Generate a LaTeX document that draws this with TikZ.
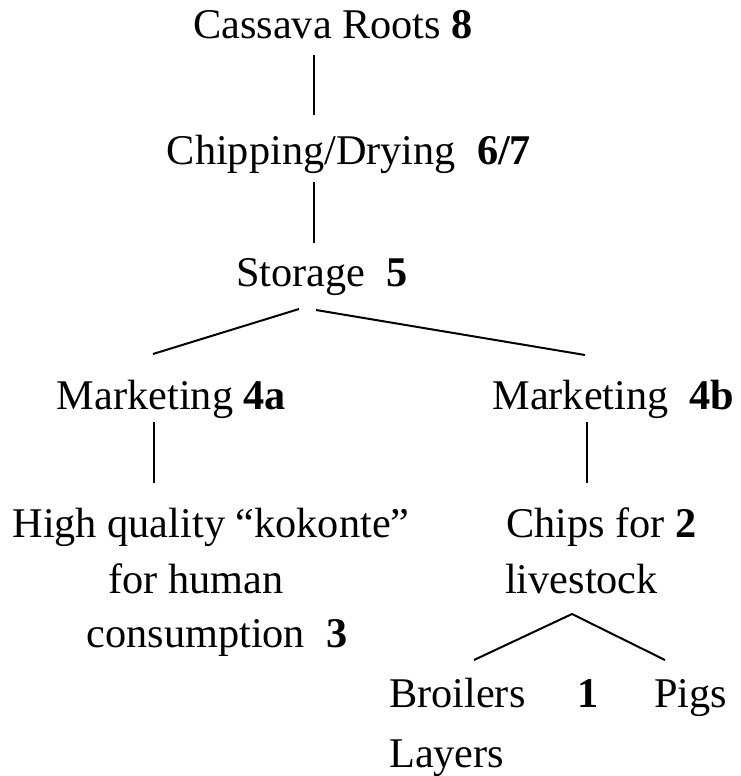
\documentclass[tikz,border=0pt]{standalone}
\usepackage{fontspec}
\setmainfont{Liberation Serif}
\begin{document}
\begin{tikzpicture}[x=1pt,y=-1pt,
  lbl/.style={anchor=base,inner sep=0pt,font=\fontsize{42.3}{50}\selectfont},
  lnk/.style={line width=2pt,black}]
\useasboundingbox (0,0) rectangle (741,776);
\node[lbl] (root) at (333,39) {Cassava Roots \textbf{8}};
\node[lbl] (chip) at (349,164) {Chipping/Drying\ \ \textbf{6/7}};
\node[lbl] (stor) at (322,286) {Storage\ \ \textbf{5}};
\node[lbl] (mka) at (171.5,409) {Marketing \textbf{4a}};
\node[lbl] (mkb) at (613.5,409) {Marketing\ \ \textbf{4b}};
\node[lbl] (hq1) at (211,537) {High quality ``kokonte''};
\node[lbl] (hq2) at (196,593) {for human};
\node[lbl] (hq3) at (217,647) {consumption\ \ \textbf{3}};
\node[lbl] (ch1) at (601.5,537) {Chips for \textbf{2}};
\node[lbl] (ch2) at (581.5,593) {livestock};
\node[lbl,anchor=base west] (bro) at (389,707) {Broilers};
\node[lbl] (one) at (588.5,707) {\textbf{1}};
\node[lbl,anchor=base west] (pig) at (654,707) {Pigs};
\node[lbl,anchor=base west] (lay) at (389,767) {Layers};
% connector end points
\coordinate (a1) at (314,55);  \coordinate (a2) at (314,115);
\coordinate (b1) at (314,182); \coordinate (b2) at (314,243);
\coordinate (c0) at (299,309); \coordinate (c1) at (153,354);
\coordinate (d0) at (316,310); \coordinate (d1) at (585,355);
\coordinate (e1) at (154,422); \coordinate (e2) at (154,483);
\coordinate (f1) at (587,422); \coordinate (f2) at (587,483);
\coordinate (g0) at (572,614); \coordinate (g1) at (474,660); \coordinate (g2) at (665,660);
\draw[lnk] (a1) -- (a2);
\draw[lnk] (b1) -- (b2);
\draw[lnk] (c0) -- (c1);
\draw[lnk] (d0) -- (d1);
\draw[lnk] (e1) -- (e2);
\draw[lnk] (f1) -- (f2);
\draw[lnk] (g1) -- (g0) -- (g2);
\end{tikzpicture}
\end{document}
